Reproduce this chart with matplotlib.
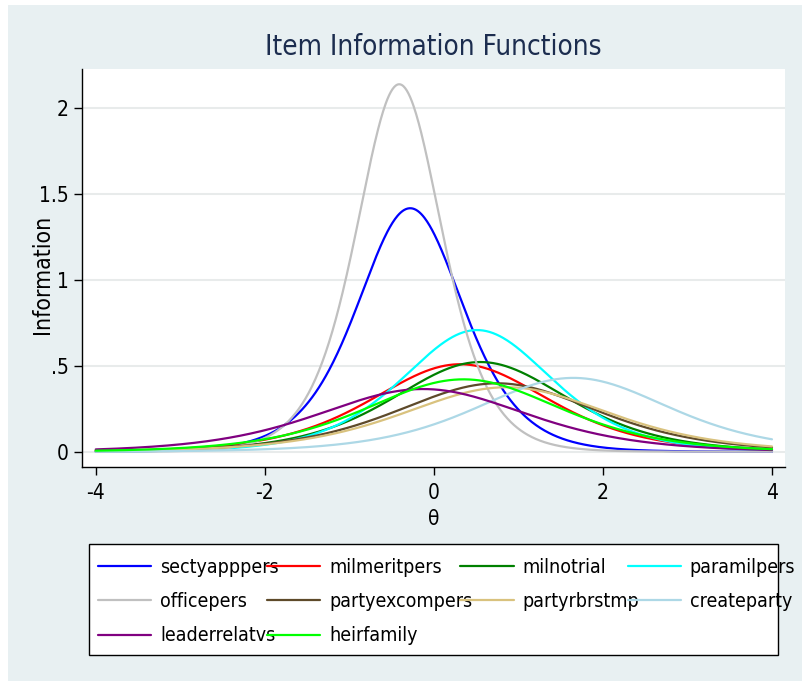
import numpy as np
import matplotlib
matplotlib.use("Agg")
import matplotlib.pyplot as plt
from matplotlib.patches import Rectangle

plt.rcParams['font.family'] = ['DejaVu Sans']
plt.rcParams['font.stretch'] = 'condensed'

# 2PL item parameters: discrimination (a) and difficulty (b)
items = ["sectyapppers", "milmeritpers", "milnotrial", "paramilpers",
         "officepers", "partyexcompers", "partyrbrstmp", "createparty",
         "leaderrelatvs", "heirfamily"]
discrimination = [2.381, 1.427, 1.445, 1.683, 2.925, 1.262, 1.225, 1.311, 1.208, 1.298]
difficulty = [-0.28, 0.31, 0.55, 0.51, -0.41, 0.75, 0.86, 1.65, -0.13, 0.35]
colors = ["#0000ff", "#ff0000", "#008000", "#00ffff", "#c0c0c0",
          "#5e4a2a", "#d9c27e", "#add8e6", "#800080", "#00ff00"]

yticks = [0, 0.5, 1, 1.5, 2]
yticklabels = ["0", ".5", "1", "1.5", "2"]
xticks = [-4, -2, 0, 2, 4]
xticklabels = ["-4", "-2", "0", "2", "4"]

W, H = 802, 681
fig = plt.figure(figsize=(W / 100, H / 100), dpi=100, facecolor="white")
bg = "#e8f0f2"
fig.patches.append(Rectangle((8 / W, 0), 1 - 8 / W, 1 - 5 / H, transform=fig.transFigure,
                             facecolor=bg, edgecolor="none", zorder=-10))

ax = fig.add_axes([82.3 / W, 1 - 466.7 / H, (785 - 82.3) / W, (466.7 - 69.3) / H])
ax.set_facecolor("white")

theta = np.linspace(-4, 4, 801)
for name, a, b, c in zip(items, discrimination, difficulty, colors):
    p = 1.0 / (1.0 + np.exp(-a * (theta - b)))
    info = a ** 2 * p * (1 - p)
    ax.plot(theta, info, color=c, lw=1.6, label=name, solid_capstyle="round")

ax.set_xlim(-4.159, 4.154)
ax.set_ylim(-0.0873, 2.226)
ax.set_yticks(yticks)
ax.set_yticklabels(yticklabels)
ax.set_xticks(xticks)
ax.set_xticklabels(xticklabels)
ax.tick_params(axis="both", labelsize=15, length=6, width=1, color="black", pad=4)
ax.tick_params(axis="x", pad=6)
ax.grid(axis="y", color="#e8ebeb", lw=1.5)
ax.set_axisbelow(True)
for s in ["top", "right"]:
    ax.spines[s].set_visible(False)
for s in ["left", "bottom"]:
    ax.spines[s].set_linewidth(1)
    ax.spines[s].set_color("black")

ax.set_ylabel("Information", fontsize=16.5, va="center")
ax.yaxis.set_label_coords((42.5 - 82.3) / (785 - 82.3), (466.7 - 274.5) / (466.7 - 69.3))
ax.set_xlabel("θ", fontsize=15, labelpad=4)
fig.text(433 / W, 1 - 47 / H, "Item Information Functions", ha="center", va="center",
         fontsize=20, color="#1c2d4f")

# legend box, then entries filled row by row in four columns
fig.patches.append(Rectangle((89 / W, 1 - 655 / H), (778 - 89) / W, (655 - 544) / H,
                             transform=fig.transFigure, facecolor="white",
                             edgecolor="black", lw=1, zorder=1))
handles, labels = ax.get_legend_handles_labels()
order = [0, 4, 8, 1, 5, 9, 2, 6, 3, 7]
leg = fig.legend([handles[i] for i in order], [labels[i] for i in order],
                 ncol=4, loc="upper left", bbox_to_anchor=(98 / W, 1 - 558 / H),
                 fontsize=14, handlelength=2.73, handletextpad=0.46,
                 labelspacing=0.78, borderpad=0, frameon=False,
                 borderaxespad=0, columnspacing=-0.6)

fig.savefig("out.png", dpi=100, facecolor=fig.get_facecolor())
